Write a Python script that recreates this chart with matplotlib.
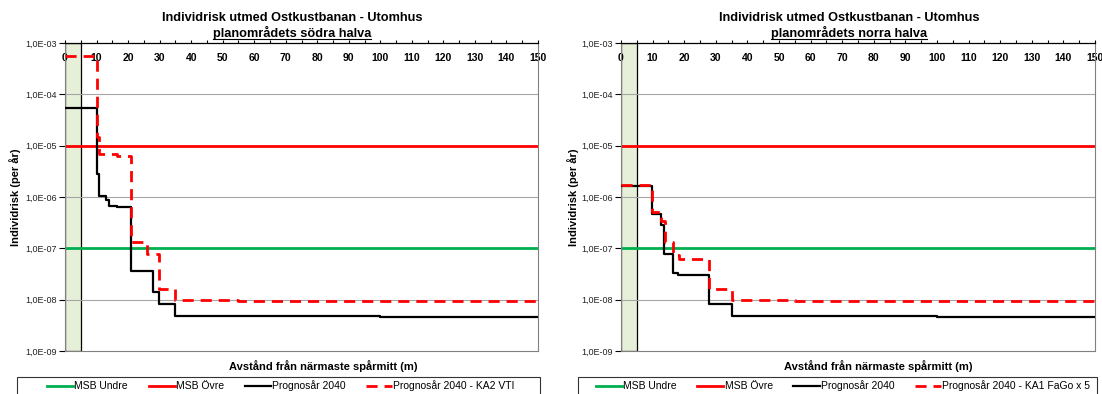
import numpy as np
import matplotlib
matplotlib.use("Agg")
import matplotlib.pyplot as plt
from matplotlib.ticker import FixedLocator, FuncFormatter, MultipleLocator
from matplotlib.lines import Line2D
from matplotlib.patches import Rectangle

plt.rcParams['font.family'] = ['Liberation Sans', 'DejaVu Sans']

# --- data ---
msb_undre = 1e-7
msb_ovre = 1e-5
zone_width = 5  # green zone next to the track (m)

# planområdets södra halva
s_black_x = [0, 10.3, 10.7, 13.0, 13.8, 16.5, 20.9, 28.0, 29.8, 35.0, 55.0, 100.0, 150]
s_black_y = [5.3e-5, 2.8e-6, 1.05e-6, 8.8e-7, 6.8e-7, 6.3e-7, 3.6e-8, 1.4e-8, 8.3e-9,
             4.9e-9, 4.75e-9, 4.6e-9, 4.6e-9]
s_red_x = [0, 10.3, 10.8, 16.5, 20.9, 26.0, 29.8, 35.0, 55.0, 100.0, 150]
s_red_y = [5.6e-4, 1.5e-5, 6.9e-6, 6.4e-6, 1.3e-7, 7.6e-8, 1.65e-8, 1.0e-8, 9.5e-9,
           9.3e-9, 9.3e-9]

# planområdets norra halva
n_black_x = [0, 9.7, 12.5, 13.5, 16.6, 18.0, 27.8, 35.0, 55.0, 100.0, 150]
n_black_y = [1.65e-6, 4.7e-7, 2.8e-7, 7.8e-8, 3.3e-8, 3.0e-8, 8.1e-9, 4.9e-9, 4.75e-9,
             4.6e-9, 4.6e-9]
n_red_x = [0, 9.7, 12.8, 14.0, 16.6, 18.5, 27.8, 35.0, 55.0, 100.0, 150]
n_red_y = [1.75e-6, 5.2e-7, 3.4e-7, 1.3e-7, 7.4e-8, 6.3e-8, 1.6e-8, 1.0e-8, 9.5e-9,
           9.3e-9, 9.3e-9]

title1 = "Individrisk utmed Ostkustbanan - Utomhus"
xlabel = "Avstånd från närmaste spårmitt (m)"
ylabel = "Individrisk (per år)"

W, H = 1102, 394
fig = plt.figure(figsize=(W / 100, H / 100), dpi=100)


def fy(py):
    return 1 - py / H


def make_panel(left_px, right_px, subtitle, bx, by, rx, ry, red_label,
               title_cx, xlab_cx, ylab_x, leg_left, leg_right, leg_cx):
    ax = fig.add_axes([left_px / W, fy(351), (right_px - left_px) / W, (351 - 43) / H])
    ax.set_yscale('log')
    ax.set_xlim(0, 150)
    ax.set_ylim(1e-9, 1e-3)

    ax.axvspan(0, zone_width, facecolor='#e6f0d8', edgecolor='black', lw=0.9, zorder=1)
    for v in [1e-8, 1e-6, 1e-4]:
        ax.axhline(v, color='#a6a6a6', lw=0.8, zorder=1.5)

    ax.axhline(msb_undre, color='#00b050', lw=2.0, zorder=2, label='MSB Undre')
    ax.axhline(msb_ovre, color='#ff0000', lw=2.0, zorder=2, label='MSB Övre')
    ax.plot(bx, by, drawstyle='steps-post', color='black', lw=1.6, zorder=3,
            label='Prognosår 2040')
    ax.plot(rx, ry, drawstyle='steps-post', color='#ff0000', lw=2.0, dashes=(4, 2.5),
            zorder=4, label=red_label)

    # x axis sits at the top, labels inside the plot
    ax.xaxis.set_major_locator(MultipleLocator(10))
    ax.xaxis.set_minor_locator(MultipleLocator(5))
    ax.tick_params(axis='x', which='both', direction='out', top=True, bottom=False,
                   labeltop=True, labelbottom=False, pad=-17, labelsize=7.5)
    ax.tick_params(axis='x', which='major', length=2.5, width=0.8)
    ax.tick_params(axis='x', which='minor', length=2.0, width=0.8)
    for t in ax.get_xticklabels():
        t.set_fontweight('bold')

    ax.yaxis.set_major_locator(FixedLocator([10.0 ** k for k in range(-9, -2)]))
    ax.yaxis.set_minor_locator(FixedLocator([]))
    ax.yaxis.set_major_formatter(FuncFormatter(
        lambda v, p: "1,0E-%02d" % int(round(-np.log10(v)))))
    ax.tick_params(axis='y', which='major', direction='out', length=4, width=0.8,
                   labelsize=6.5, labelcolor='#222222', pad=2)

    for s in ['left', 'right', 'bottom']:
        ax.spines[s].set_color('#808080')
        ax.spines[s].set_linewidth(0.8)
    ax.spines['top'].set_color('black')
    ax.spines['top'].set_linewidth(0.9)

    fig.text(title_cx / W, fy(21), title1, ha='center', va='baseline',
             fontsize=9.2, fontweight='bold')
    st = fig.text(title_cx / W, fy(37), subtitle, ha='center', va='baseline',
                  fontsize=9.2, fontweight='bold')
    fig.text(xlab_cx / W, fy(366), xlabel, ha='center', va='center',
             fontsize=8, fontweight='bold')
    fig.text(ylab_x / W, (fy(43) + fy(351)) / 2, ylabel, ha='center', va='center',
             rotation=90, fontsize=8, fontweight='bold')

    # legend box below the chart
    box = Rectangle((leg_left / W, fy(398)), (leg_right - leg_left) / W, 21 / H,
                    transform=fig.transFigure, facecolor='white',
                    edgecolor='#333333', lw=0.8, zorder=-1)
    fig.add_artist(box)
    ax.legend(loc='center', bbox_to_anchor=(leg_cx / W, fy(386)),
              bbox_transform=fig.transFigure, ncol=4, frameon=False,
              fontsize=7.5, handlelength=2.5, handletextpad=0.1,
              columnspacing=2.0, borderpad=0)
    return st


st1 = make_panel(65, 538, "planområdets södra halva", s_black_x, s_black_y,
                 s_red_x, s_red_y, 'Prognosår 2040 - KA2 VTI', 292, 323, 15, 17, 540, 281)
st2 = make_panel(621, 1095, "planområdets norra halva", n_black_x, n_black_y,
                 n_red_x, n_red_y, 'Prognosår 2040 - KA1 FaGo x 5', 849, 878, 573, 578,
                 1097, 843)

# underline the subtitles
renderer = fig.canvas.get_renderer()
for st in (st1, st2):
    bb = st.get_window_extent(renderer)
    yline = fy(38.8)
    fig.add_artist(Line2D([bb.x0 / W, bb.x1 / W], [yline, yline],
                          transform=fig.transFigure, color='black', lw=0.8))

fig.savefig('out.png', dpi=100)
